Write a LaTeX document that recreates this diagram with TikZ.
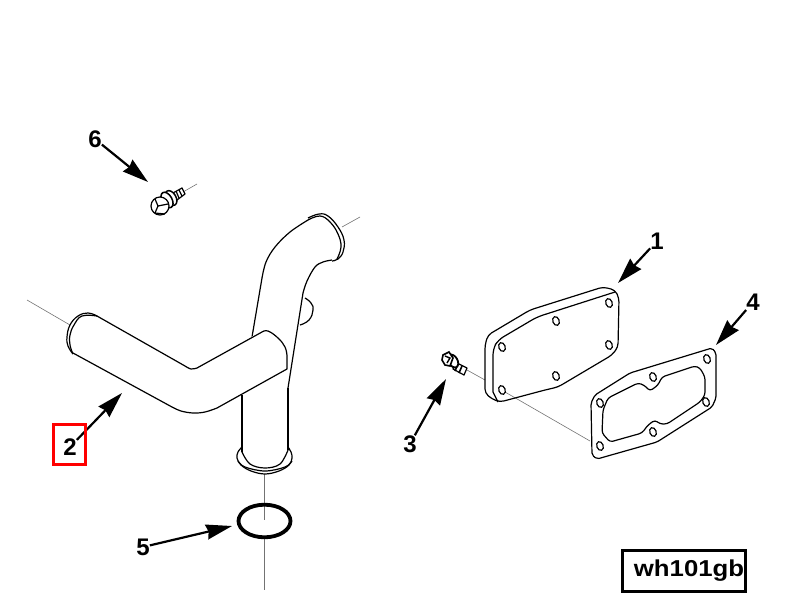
\documentclass[tikz,border=0pt]{standalone}
\usepackage{graphicx}
\usepackage{fontspec}
\setmainfont{Liberation Sans}
\usetikzlibrary{arrows.meta}
\tikzset{
  part/.style={line width=1.2pt,line join=round},
  axisline/.style={line width=0.6pt,black!55},
  hole/.style={line width=1.2pt,fill=white},
  leader/.style={line width=2.2pt,-{Stealth[length=26pt,width=15pt,inset=2pt]}},
  callout/.style={font=\bfseries\fontsize{24}{26}\selectfont,inner sep=0pt},
}
\begin{document}
\begin{tikzpicture}[x=1pt,y=-1pt]
\useasboundingbox (0,0) rectangle (789,600);
% centre lines
\draw[axisline](27,300)--(70,325);
\draw[axisline](342,227)--(360,217);
\draw[axisline](264,474)--(264,520);
\draw[axisline](264,538)--(264,590);
\draw[axisline](183,192)--(197,184);
\draw[axisline](467,370)--(485,380);
\draw[axisline](505,392)--(590,441);
%
% upright pipe
\draw[part](242,395)--(242,452);
\draw[part](288,388)--(288,450);
\draw[part] plot[smooth,tension=0.6] coordinates {(242,452)(250,464)(265,468)(280,464)(288,450)};
\draw[part] plot[smooth,tension=0.6] coordinates {(242,447)(238,452)(237,458)(241,465)(251,471)(265,474)(279,471)(289,465)(292,458)(291,452)(288,447)};
\draw[part] plot[smooth,tension=0.6] coordinates {(238,461)(245,467)(265,471)(285,467)(292,461)};
\draw[part](252,337)--(262,278);
\draw[part] plot[smooth,tension=0.6] coordinates {(262,278)(266,262)(275,247)(290,232)(308,220)};
\draw[part](288,388)--(303,293);
\draw[part] plot[smooth,tension=0.6] coordinates {(303,293)(307,281)(315,267)(323,262)(332,260)};
% top lip
\draw[part] plot[smooth,tension=0.7] coordinates {(308,218)(319,214)(328,216)(338,227)(344,240)(343,252)(338,259)(332,261)};
\draw[part] plot[smooth,tension=0.7] coordinates {(308,220)(320,216)(330,222)(338,234)(341,247)(337,259)};
% bump behind the pipe
\draw[part] plot[smooth,tension=0.8] coordinates {(305,298)(311,303)(313,310)(309,320)(300,325)};
%
% branch pipe
\draw[part,fill=white](97,316)--(185,366) plot[smooth,tension=0.6] coordinates {(185,366)(191,369)(197,368)}
  --(262,332) plot[smooth,tension=0.7] coordinates {(262,332)(268,331)(278,338)(285,347)(287,356)}
  --(287,369)--(217,408) plot[smooth,tension=0.6] coordinates {(217,408)(205,412)(193,413)(181,411)(172,407)}
  --(73,353);
\draw[part] plot[smooth,tension=0.7] coordinates {(73,354)(68,346)(67,337)(70,325)(78,316)(88,313)(97,316)};
\draw[part] plot[smooth,tension=0.7] coordinates {(73,354)(70,345)(70,335)(74,325)(82,316)(97,316)};
%
% cover plate
\draw[part,rounded corners=4pt](485,345)--(488,335)--(530,310)--(603,287)--(615,290)--(619,298)--(618,347)--(612,355)--(558,387)--(545,390)--(500,402)--(492,399)--(485,393)--cycle;
\draw[part,rounded corners=6pt](493,392)--(493,349)--(498,340)--(537,317)--(615,292);
\draw[part](493,392)--(498,402);
\draw[hole,rotate around={20:(502,347)}](502,347) ellipse (3.2 and 4.5);
\draw[hole,rotate around={20:(556,321)}](556,321) ellipse (3.2 and 4.5);
\draw[hole,rotate around={20:(609,303)}](609,303) ellipse (3.2 and 4.5);
\draw[hole,rotate around={20:(609,345)}](609,345) ellipse (3.2 and 4.5);
\draw[hole,rotate around={20:(556,376)}](556,376) ellipse (3.2 and 4.5);
\draw[hole,rotate around={20:(502,390)}](502,390) ellipse (3.2 and 4.5);
%
% gasket
\draw[part,rounded corners=2pt](591,403)--(595,395)--(630,373)--(712,348)--(716,353)--(716,398)--(712,407)--(657,442)--(597,459)--(592,455)--cycle;
\draw[part,rounded corners=3pt](603,410)--(608,398)--(638,383)--(644,385)--(650,391)--(658,385)--(662,377)--(695,366)--(700,368)--(705,377)--(705,395)--(700,402)--(667,424)--(660,424)--(655,420)--(648,425)--(642,433)--(610,442)--(602,433)--cycle;
\draw[hole,rotate around={20:(707,359)}](707,359) ellipse (3.2 and 4.5);
\draw[hole,rotate around={20:(653,377)}](653,377) ellipse (3.2 and 4.5);
\draw[hole,rotate around={20:(600,403)}](600,403) ellipse (3.2 and 4.5);
\draw[hole,rotate around={20:(706,402)}](706,402) ellipse (3.2 and 4.5);
\draw[hole,rotate around={20:(653,432)}](653,432) ellipse (3.2 and 4.5);
\draw[hole,rotate around={20:(600,446)}](600,446) ellipse (3.2 and 4.5);
%
% o-ring
\draw[line width=3.8pt](264.5,521) ellipse (26 and 16.3);
%
% bolt 6
\draw[part,fill=white](173,193)--(182,188)--(185,194)--(177,200)--cycle;
\draw[part](176,191)--(179,198);
\draw[part](179,190)--(182,196);
\draw[line width=1.5pt,fill=white,rotate around={30:(171,198)}](171,198) ellipse (5 and 8);
\draw[line width=1.5pt,fill=white,rotate around={30:(167,200)}](167,200) ellipse (5 and 8.5);
\draw[part,fill=white](160,206) circle (9);
\draw[part](155,199)--(158,206)--(155,213);
\draw[part](158,206)--(168,204);
\draw[part](155,213)--(165,214);
%
% bolt 3
\draw[part,fill=white](455,362)--(467,368)--(464,375)--(453,369)--cycle;
\draw[line width=1.6pt](458,364)--(455,371);
\draw[line width=1.6pt](462,366)--(459,373);
\draw[line width=1.8pt,fill=white,rotate around={30:(453,361)}](453,361) ellipse (4.5 and 7);
\draw[line width=1.6pt,fill=white](443,355)--(449,352)--(453,358)--(450,366)--(445,365)--(442,360)--cycle;
\draw[line width=1.4pt](445,356)--(450,358)--(447,363);
%
% item numbers
\node[callout](label1) at (657,241) {1};
\node[callout](label2) at (70,447) {2};
\node[callout](label3) at (410,444) {3};
\node[callout](label4) at (753,302) {4};
\node[callout](label5) at (143,547) {5};
\node[callout](label6) at (95,139) {6};
\coordinate(tip1) at (618,283);
\coordinate(tip2) at (122,393);
\coordinate(tip3) at (446,379);
\coordinate(tip4) at (716,345);
\coordinate(tip5) at (232,526);
\coordinate(tip6) at (148,182);
\draw[leader](label1)--(tip1);
\draw[leader](label2)--(tip2);
\draw[leader](label3)--(tip3);
\draw[leader](label4)--(tip4);
\draw[leader](label5)--(tip5);
\draw[leader](label6)--(tip6);
%
\draw[line width=3pt,red](53.5,424.5) rectangle (85.5,464);
\node[draw,line width=2.2pt,inner sep=0pt,minimum width=123pt,minimum height=41pt,font=\bfseries\fontsize{23}{26}\selectfont](refbox) at (684,571) {\hspace*{10pt}\scalebox{1.12}[1]{wh101gb}};
\end{tikzpicture}
\end{document}
